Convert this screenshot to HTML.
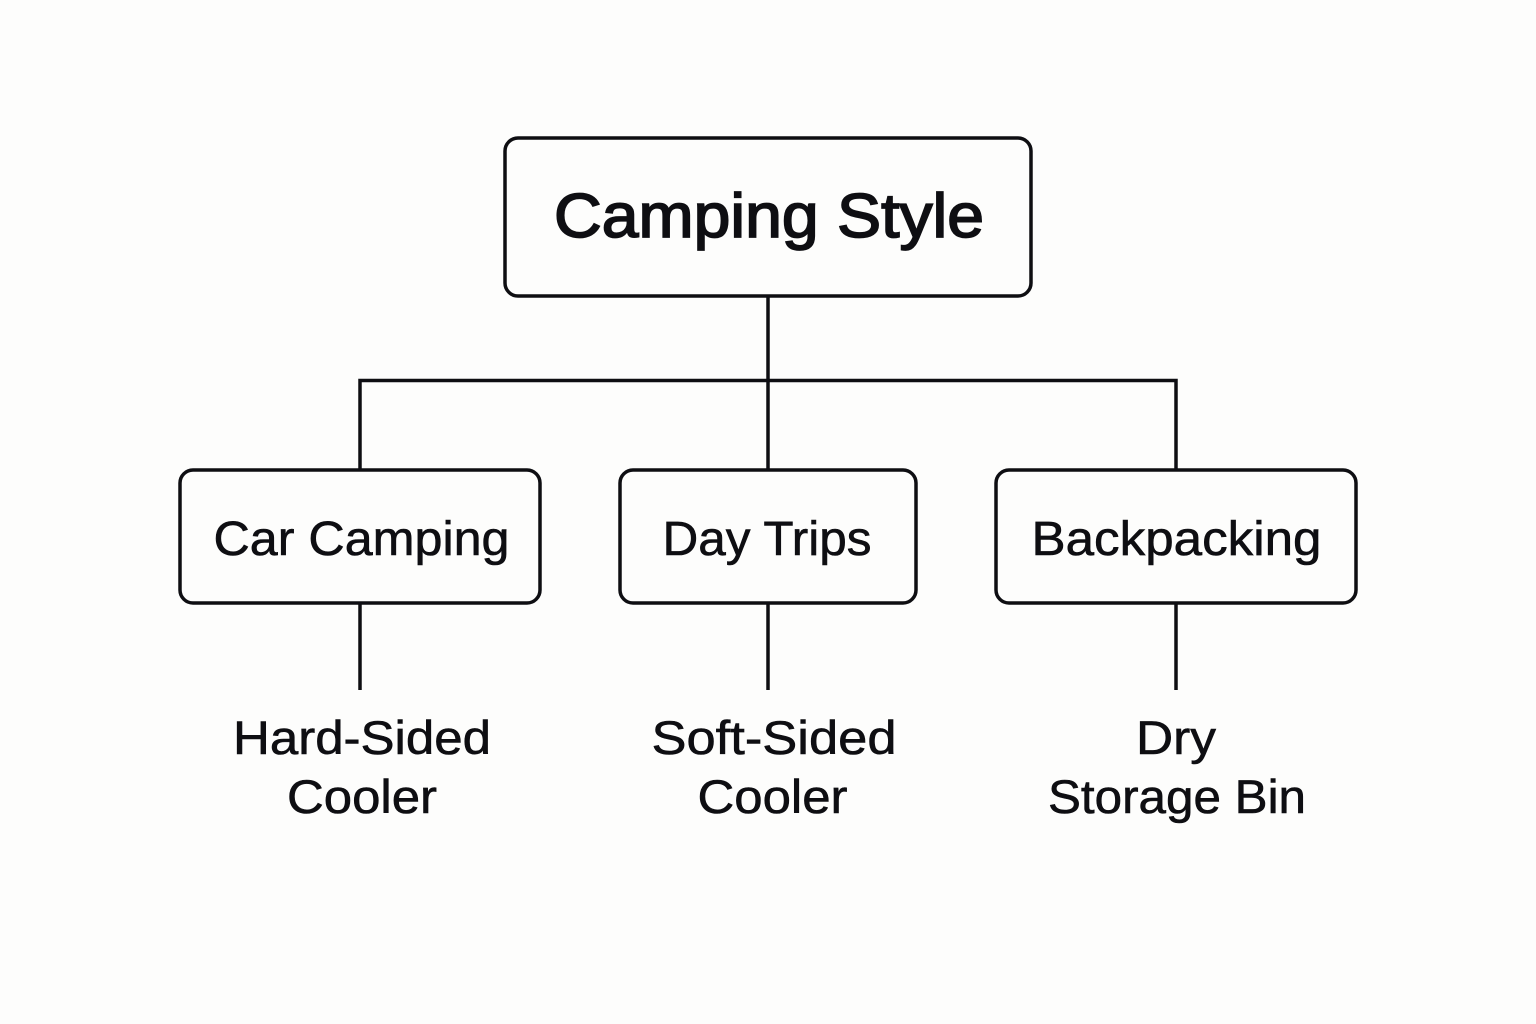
<!DOCTYPE html>
<html>
<head>
<meta charset="utf-8">
<style>
html,body{margin:0;padding:0;background:#fdfdfc;}
svg{display:block;}
text{font-family:"Liberation Sans",sans-serif;fill:#0e0e12;stroke:#0e0e12;stroke-width:.6px;text-anchor:middle;}
text.title{stroke-width:1.7px;}
</style>
</head>
<body>
<svg width="1536" height="1024" viewBox="0 0 1536 1024" xmlns="http://www.w3.org/2000/svg">
<rect width="1536" height="1024" fill="#fdfdfc"/>
<g fill="none" stroke="#0e0e12" stroke-width="3.5">
<rect x="505" y="138" width="526" height="158" rx="13"/>
<rect x="180" y="470" width="360" height="133" rx="13"/>
<rect x="620" y="470" width="296" height="133" rx="13"/>
<rect x="996" y="470" width="360" height="133" rx="13"/>
<path d="M768 296V470M360 470V380.500H1176V470M360 603V690M768 603V690M1176 603V690"/>
</g>
<text class="title" x="769" y="237" font-size="62" textLength="430" lengthAdjust="spacingAndGlyphs">Camping Style</text>
<text x="361.500" y="555" font-size="48" textLength="296" lengthAdjust="spacingAndGlyphs">Car Camping</text>
<text x="767" y="555" font-size="48" textLength="209" lengthAdjust="spacingAndGlyphs">Day Trips</text>
<text x="1176.500" y="555" font-size="48" textLength="290" lengthAdjust="spacingAndGlyphs">Backpacking</text>
<text x="362" y="754" font-size="47" textLength="258" lengthAdjust="spacingAndGlyphs">Hard-Sided</text>
<text x="362" y="813" font-size="47" textLength="150" lengthAdjust="spacingAndGlyphs">Cooler</text>
<text x="774" y="754" font-size="47" textLength="245" lengthAdjust="spacingAndGlyphs">Soft-Sided</text>
<text x="772.500" y="813" font-size="47" textLength="150" lengthAdjust="spacingAndGlyphs">Cooler</text>
<text x="1176" y="754" font-size="47" textLength="80" lengthAdjust="spacingAndGlyphs">Dry</text>
<text x="1177" y="813" font-size="47" textLength="258" lengthAdjust="spacingAndGlyphs">Storage Bin</text>
</svg>
</body>
</html>
